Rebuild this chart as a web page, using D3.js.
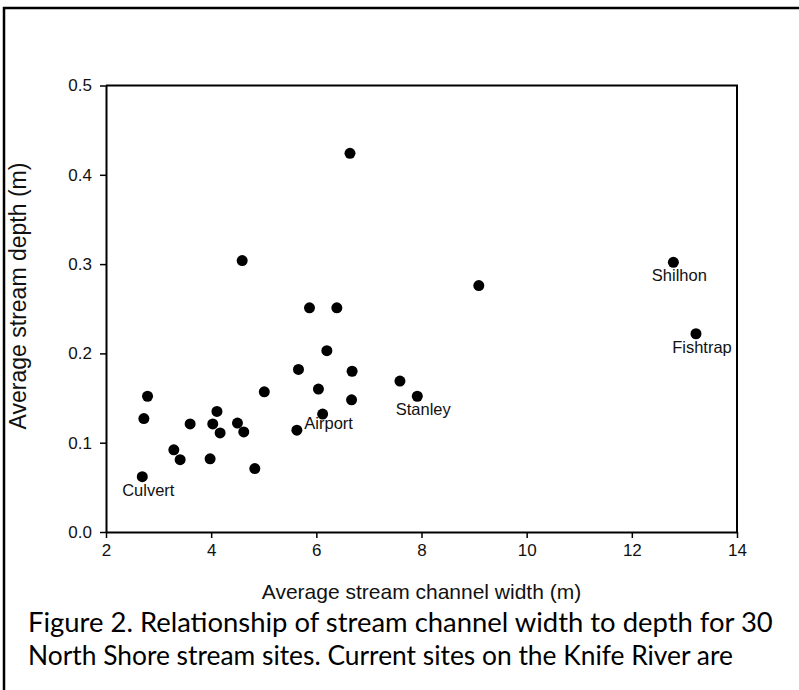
<!DOCTYPE html>
<html>
<head>
<meta charset="utf-8">
<script src="https://cdn.jsdelivr.net/npm/d3@7"></script>
<style>
  body { margin: 0; background: #fff; }
  svg { display: block; }
</style>
</head>
<body>
<div id="figure"></div>
<script>
// channel width (m), depth (m) and site name for the 30 North Shore sites
const channelWidth = [2.79, 2.72, 2.69, 3.29, 3.41, 3.60, 3.98, 4.03, 4.11, 4.17,
                      4.50, 4.62, 4.83, 5.01, 5.63, 5.66, 5.87, 6.39, 6.20, 6.04,
                      6.12, 6.68, 6.67, 7.59, 7.92, 6.64, 4.59, 9.09, 12.79, 13.22];
const streamDepth  = [0.152, 0.127, 0.062, 0.092, 0.081, 0.121, 0.082, 0.121, 0.135, 0.111,
                      0.122, 0.112, 0.071, 0.157, 0.114, 0.182, 0.251, 0.251, 0.203, 0.160,
                      0.132, 0.180, 0.148, 0.169, 0.152, 0.424, 0.304, 0.276, 0.302, 0.222];
const siteName     = ['', '', 'Culvert', '', '', '', '', '', '', '',
                      '', '', '', '', '', '', '', '', '', '',
                      'Airport', '', '', '', 'Stanley', '', '', '', 'Shilhon', 'Fishtrap'];

const xTicks = [2, 4, 6, 8, 10, 12, 14];
const yTicks = [0.0, 0.1, 0.2, 0.3, 0.4, 0.5];
const xTitle = 'Average stream channel width (m)';
const yTitle = 'Average stream depth (m)';
const captionLines = [
  'Figure 2. Relationship of stream channel width to depth for 30',
  'North Shore stream sites. Current sites on the Knife River are'
];

const sites = channelWidth.map((w, i) => ({ w: w, d: streamDepth[i], name: siteName[i] }));

const width = 799;
const height = 690;
const plot = { left: 106, right: 737, top: 85.5, bottom: 532 };

const svg = d3.select('#figure')
  .append('svg')
  .attr('width', width)
  .attr('height', height);

// frame of the whole figure (runs off the right and bottom edge)
svg.append('rect')
  .attr('x', 4)
  .attr('y', 8)
  .attr('width', 820)
  .attr('height', 720)
  .attr('fill', 'none')
  .attr('stroke', '#000')
  .attr('stroke-width', 2.5);

const x = d3.scaleLinear()
  .domain([2, 14])
  .range([plot.left, plot.right]);

const y = d3.scaleLinear()
  .domain([0, 0.5])
  .range([plot.bottom, plot.top]);

const chartFont = '"Liberation Sans", Arial, sans-serif';

// axes
const axisX = d3.axisBottom(x)
  .tickValues(xTicks)
  .tickFormat(d3.format('d'))
  .tickSize(6)
  .tickSizeOuter(0)
  .tickPadding(6);

const axisY = d3.axisLeft(y)
  .tickValues(yTicks)
  .tickFormat(d3.format('.1f'))
  .tickSize(6)
  .tickSizeOuter(0)
  .tickPadding(8);

const gx = svg.append('g')
  .attr('transform', `translate(0, ${plot.bottom})`)
  .call(axisX);

const gy = svg.append('g')
  .attr('transform', `translate(${plot.left}, 0)`)
  .call(axisY);

[gx, gy].forEach(g => {
  g.select('.domain').attr('stroke', '#000').attr('stroke-width', 2);
  g.selectAll('.tick line').attr('stroke', '#000').attr('stroke-width', 1.5);
  g.selectAll('.tick text')
    .attr('fill', '#111')
    .style('font-family', chartFont)
    .style('font-size', '17px');
});

// top and right edges of the plot box
svg.append('path')
  .attr('d', `M${plot.left},${plot.top}H${plot.right}V${plot.bottom}`)
  .attr('fill', 'none')
  .attr('stroke', '#000')
  .attr('stroke-width', 2);

// points
svg.append('g')
  .selectAll('circle')
  .data(sites)
  .enter()
  .append('circle')
  .attr('cx', d => x(d.w))
  .attr('cy', d => y(d.d))
  .attr('r', 5.5)
  .attr('fill', '#000');

// site labels under their points (Airport sits a little tighter)
const labelLift = { Airport: 4 };
svg.append('g')
  .selectAll('text')
  .data(sites.filter(d => d.name !== ''))
  .enter()
  .append('text')
  .attr('x', d => x(d.w) + 6)
  .attr('y', d => y(d.d) + 19 - (labelLift[d.name] || 0))
  .attr('text-anchor', 'middle')
  .attr('fill', '#111')
  .style('font-family', chartFont)
  .style('font-size', '16.5px')
  .text(d => d.name);

// axis titles
svg.append('text')
  .attr('x', (plot.left + plot.right) / 2)
  .attr('y', 599)
  .attr('text-anchor', 'middle')
  .attr('fill', '#111')
  .style('font-family', chartFont)
  .style('font-size', '21px')
  .text(xTitle);

svg.append('text')
  .attr('transform', 'translate(26, 296) rotate(-90)')
  .attr('text-anchor', 'middle')
  .attr('fill', '#111')
  .style('font-family', chartFont)
  .style('font-size', '23px')
  .text(yTitle);

// caption below the chart, each line sized to the width it has in the original
const captionWidths = [745, 705];
const caption = svg.append('g');
captionLines.forEach((line, i) => {
  const t = caption.append('text')
    .attr('x', 28)
    .attr('y', 632 + i * 33)
    .attr('fill', '#000')
    .style('font-family', 'Lato, "Open Sans", sans-serif')
    .style('font-size', '23px')
    .text(line);
  const fit = 23 * captionWidths[i] / t.node().getComputedTextLength();
  t.style('font-size', fit + 'px');
});
</script>
</body>
</html>
